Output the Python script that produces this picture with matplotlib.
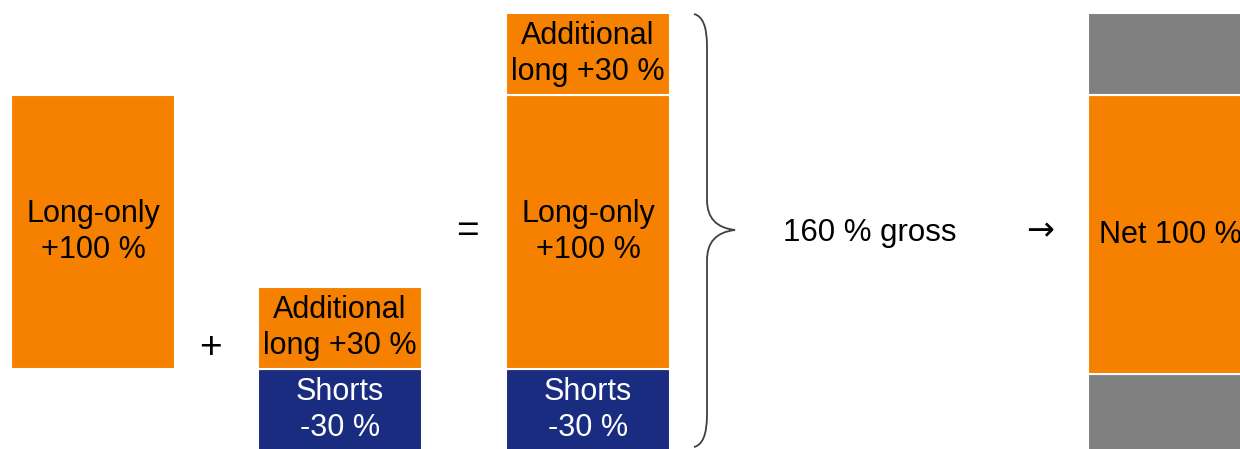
import matplotlib.pyplot as plt
from matplotlib.path import Path
from matplotlib.patches import PathPatch

plt.rcParams['font.family'] = ['Liberation Sans', 'DejaVu Sans']

# ----------------------------
# Data (percent of capital)
# ----------------------------
ORANGE = "#F68000"
NAVY = "#192C80"
GRAY = "#808080"

# bar 1: long-only
bar1_base = 0
bar1_vals = [100]
bar1_labels = ["Long-only\n+100 %"]

# bar 2: extension (shorts below zero, extra long above)
bar2_base = -30
bar2_vals = [30, 30]
bar2_labels = ["Shorts\n-30 %", "Additional\nlong +30 %"]

# bar 3: 130/30 combined
bar3_base = -30
bar3_vals = [30, 100, 30]
bar3_labels = ["Shorts\n-30 %", "Long-only\n+100 %", "Additional\nlong +30 %"]

# bar 4: net exposure
bar4_base = -30
bar4_vals = [28, 102, 30]
bar4_labels = ["", "Net 100 %", ""]

gross_label = "160 % gross"

# ----------------------------
# Layout
# ----------------------------
PX_PER_PCT = 2.74
W, H = 1240, 449
BAR_W = 164
x_left = [11, 258, 506, 1088]

fig = plt.figure(figsize=(12.4, 4.49), dpi=100)
ax = fig.add_axes([0, 0, 1, 1])
ax.set_xlim(0, W)
y_bottom = -29.2
ax.set_ylim(y_bottom, y_bottom + H / PX_PER_PCT)
ax.axis("off")

def py(pix):
    # pixel row (from top) -> percent value
    return y_bottom + (H - pix) / PX_PER_PCT

FS = 22

def draw_stack(x0, base, vals, colors, labels, text_colors):
    bottom = base
    for v, c, lab, tc in zip(vals, colors, labels, text_colors):
        ax.bar(x0, v, bottom=bottom, width=BAR_W, align="edge",
               color=c, edgecolor="white", linewidth=1.5)
        if lab:
            ax.text(x0 + BAR_W / 2, bottom + v / 2, lab, ha="center",
                    va="center", fontsize=FS, color=tc, linespacing=1.25)
        bottom += v

draw_stack(x_left[0], bar1_base, bar1_vals, [ORANGE], bar1_labels, ["black"])
draw_stack(x_left[1], bar2_base, bar2_vals, [NAVY, ORANGE], bar2_labels,
           ["white", "black"])
draw_stack(x_left[2], bar3_base, bar3_vals, [NAVY, ORANGE, ORANGE], bar3_labels,
           ["white", "black", "black"])
draw_stack(x_left[3], bar4_base, bar4_vals, [GRAY, ORANGE, GRAY], bar4_labels,
           ["black", "black", "black"])

# operators
ax.text(210, py(348), "+", ha="center", va="center", fontsize=28)
ax.text(467, py(232), "=", ha="center", va="center", fontsize=28)
ax.text(870, py(233), gross_label, ha="center", va="center", fontsize=22.5)
ax.text(1040, py(231), "→", ha="center", va="center", fontsize=24,
        family=['DejaVu Sans'])

# curly brace
xa, xb, xt = 694, 707, 735
top, tip, bot = 14, 230, 447
verts = [
    (xa, py(top)), (xb, py(top + 3)), (xb, py(top + 32)),
    (xb, py(tip - 30)),
    (xb, py(tip - 3)), (xt, py(tip)),
    (xb, py(tip + 3)), (xb, py(tip + 30)),
    (xb, py(bot - 32)),
    (xb, py(bot - 3)), (xa, py(bot)),
]
codes = [Path.MOVETO, Path.CURVE3, Path.CURVE3, Path.LINETO,
         Path.CURVE3, Path.CURVE3, Path.CURVE3, Path.CURVE3,
         Path.LINETO, Path.CURVE3, Path.CURVE3]
ax.add_patch(PathPatch(Path(verts, codes), fill=False, edgecolor="#404040", lw=1.3))

fig.savefig("out.png", dpi=100)
